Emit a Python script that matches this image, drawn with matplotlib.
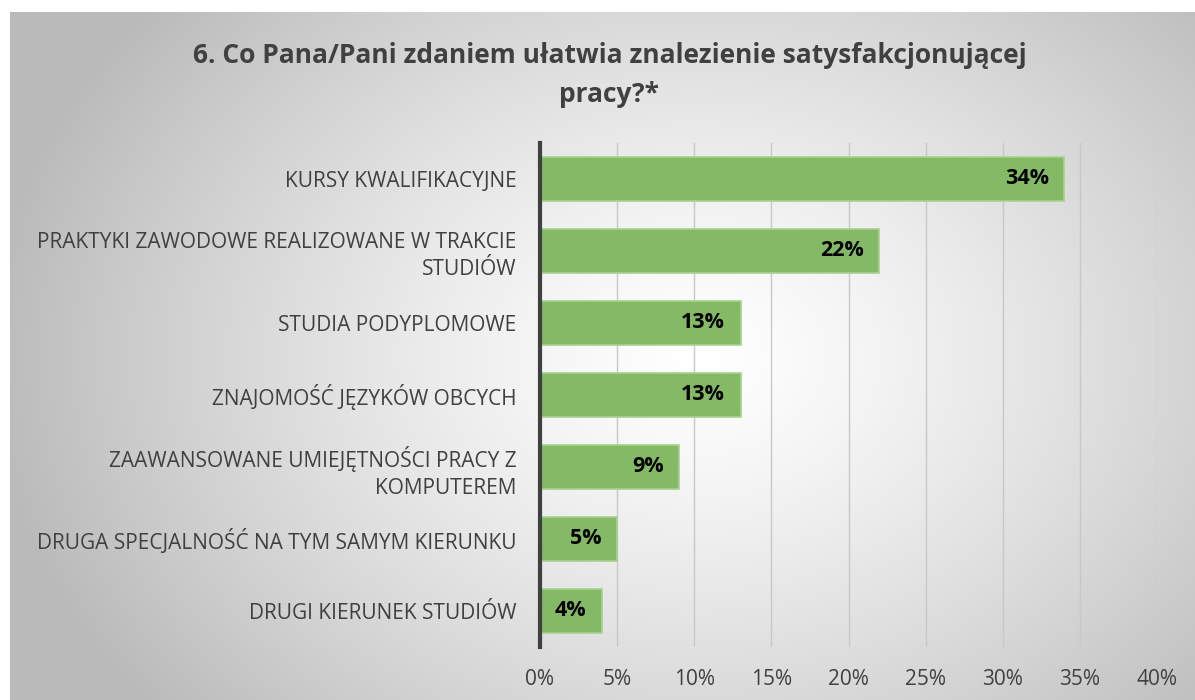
import numpy as np
import matplotlib
matplotlib.use('Agg')
import matplotlib.pyplot as plt

categories = [
    'KURSY KWALIFIKACYJNE',
    'PRAKTYKI ZAWODOWE REALIZOWANE W TRAKCIE\nSTUDIÓW',
    'STUDIA PODYPLOMOWE',
    'ZNAJOMOŚĆ JĘZYKÓW OBCYCH',
    'ZAAWANSOWANE UMIEJĘTNOŚCI PRACY Z\nKOMPUTEREM',
    'DRUGA SPECJALNOŚĆ NA TYM SAMYM KIERUNKU',
    'DRUGI KIERUNEK STUDIÓW',
]
values = [34, 22, 13, 13, 9, 5, 4]
xticks = [0, 5, 10, 15, 20, 25, 30, 35, 40]
title = '6. Co Pana/Pani zdaniem ułatwia znalezienie satysfakcjonującej\npracy?*'

plt.rcParams['font.family'] = ['Open Sans', 'DejaVu Sans']

fig = plt.figure(figsize=(11.95, 7.0), dpi=100)
fig.patch.set_facecolor('white')

# radial gradient background of the chart area
bg = fig.add_axes([10 / 1195, 0, 1 - 10 / 1195, 688 / 700])
h, w = 344, 592
yy, xx = np.mgrid[0:h, 0:w]
cx, cy = w * 0.58, h * 0.5
r = np.sqrt(((xx - cx) / (w * 0.6)) ** 2 + ((yy - cy) / (h * 0.8)) ** 2)
r = np.clip(r, 0, 1)
shade = 1.0 - 0.27 * r ** 1.3
bg.imshow(np.dstack([shade] * 3), aspect='auto', extent=[0, 1, 0, 1])
bg.set_axis_off()

ax = fig.add_axes([540 / 1195, 53 / 700, 617 / 1195, 504 / 700])
ax.patch.set_alpha(0)
y = np.arange(len(categories))
ax.barh(y, values, height=0.6, color='#84b965', edgecolor='#a9d18e', linewidth=1.2, zorder=3)
for yi, v in zip(y, values):
    ax.text(v - 1.0, yi, f'{v}%', ha='right', va='center', fontsize=15.5,
            fontweight='bold', color='black', zorder=4)

ax.set_ylim(len(categories) - 0.5, -0.5)
ax.set_xlim(0, 40)
ax.set_xticks(xticks)
ax.set_xticklabels([f'{t}%' for t in xticks], fontsize=15, color='#404040')
ax.set_yticks(y)
ax.set_yticklabels(categories, fontsize=15, color='#404040', ha='right', linespacing=1.35)
ax.tick_params(axis='both', length=0)
ax.tick_params(axis='x', pad=16)
ax.tick_params(axis='y', pad=17)
for lbl in ax.get_yticklabels():
    lbl.set_multialignment('right')
ax.grid(axis='x', color='#c8c8c8', linewidth=1, zorder=0)
for s in ['top', 'right', 'bottom']:
    ax.spines[s].set_visible(False)
ax.spines['left'].set_color('#404040')
ax.spines['left'].set_linewidth(3)
ax.spines['left'].set_zorder(5)

fig.text(0.51, 0.893, title, ha='center', va='center', fontsize=19,
         fontweight='bold', color='#404040', linespacing=1.6)

fig.savefig('out.png', dpi=100)
